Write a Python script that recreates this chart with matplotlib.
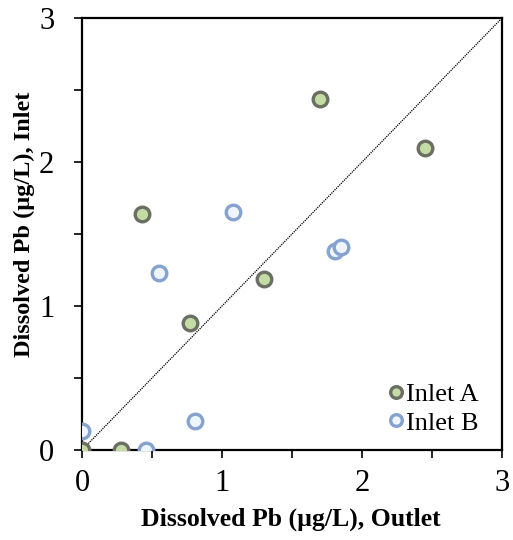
import matplotlib
matplotlib.use("Agg")
import matplotlib.pyplot as plt
import numpy as np

plt.rcParams['font.family'] = ['Liberation Serif', 'DejaVu Serif']

# Dissolved Pb (ug/L): outlet vs inlet
inlet_a_outlet = [1.70, 2.45, 0.43, 1.30, 0.77, 0.28, 0.0]
inlet_a_inlet = [2.44, 2.10, 1.64, 1.19, 0.88, 0.0, 0.0]

inlet_b_outlet = [1.08, 0.55, 1.81, 1.85, 0.81, 0.46, 0.0]
inlet_b_inlet = [1.65, 1.23, 1.38, 1.41, 0.20, 0.0, 0.13]

fig = plt.figure(figsize=(5.13, 5.40), dpi=100)
ax = fig.add_axes([0.160, 0.1667, 0.8186, 0.80])

ax.plot([0, 3], [0, 3], color='black', lw=0.9, ls=(0, (1, 0.8)), zorder=1)

ax.plot(inlet_a_outlet, inlet_a_inlet, 'o', ms=10.5, mew=2.4,
        mfc='#c3dca4', mec='#6b6e63', label='Inlet A', zorder=3)
ax.plot(inlet_b_outlet, inlet_b_inlet, 'o', ms=10.5, mew=2.4,
        mfc='#eef5fc', mec='#86a2cf', label='Inlet B', zorder=3)

ax.set_xlim(0, 3)
ax.set_ylim(0, 3)
ax.set_xticks([0, 1, 2, 3])
ax.set_yticks([0, 1, 2, 3])
ax.set_xticks([0.5, 1.5, 2.5], minor=True)
ax.set_yticks([0.5, 1.5, 2.5], minor=True)
ax.tick_params(which='both', direction='out', length=6, width=1.2,
               labelsize=22, pad=8)
ax.tick_params(axis='y', pad=14)

for s in ax.spines.values():
    s.set_linewidth(1.6)

ax.set_xlabel('Dissolved Pb (µg/L), Outlet', fontsize=18.5, fontweight='bold')
ax.set_ylabel('Dissolved Pb (µg/L), Inlet', fontsize=17.5, fontweight='bold')
ax.xaxis.set_label_coords(0.498, -0.134)
ax.yaxis.set_label_coords(-0.112, 0.523)

leg = ax.legend(loc='lower right', bbox_to_anchor=(0.962, 0.017),
                frameon=False, fontsize=19,
                handletextpad=-0.2, handlelength=1.1, markerscale=0.8,
                borderaxespad=0.0, borderpad=0.3, labelspacing=0.2)

fig.savefig('out.png', dpi=100)
